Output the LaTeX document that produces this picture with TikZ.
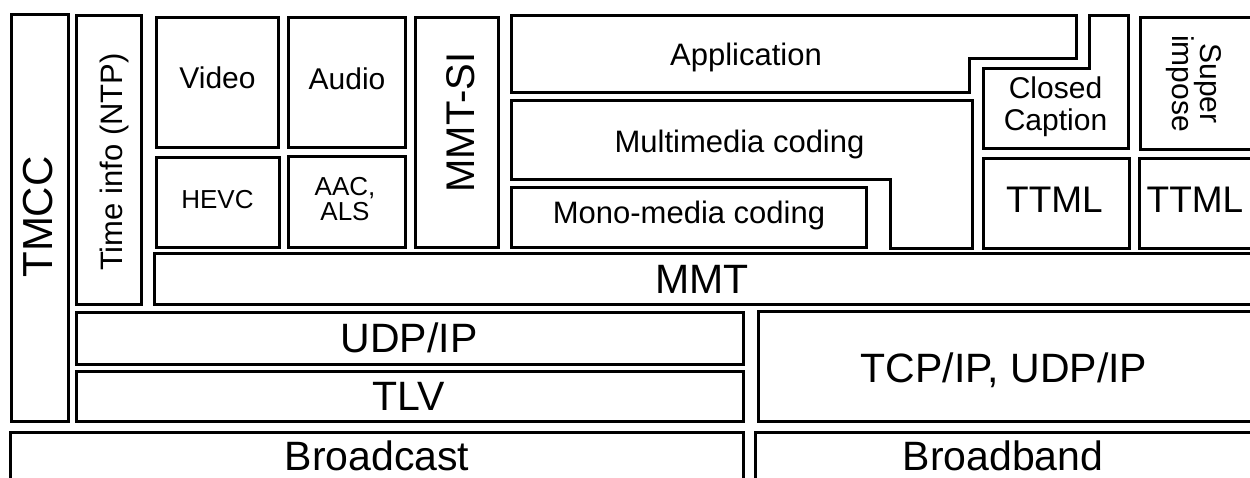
\documentclass[tikz,border=0pt]{standalone}
\usepackage{fontspec}
\setmainfont{Liberation Sans}
\tikzset{
  box/.style={draw=black, line width=3pt, line join=miter},
  lbl/.style={anchor=base, inner sep=0pt, outer sep=0pt, text=black},
  fs/.style={font=\fontsize{#1}{#1}\selectfont},
}
\begin{document}
\begin{tikzpicture}[x=1pt,y=-1pt]
\useasboundingbox (0,0) rectangle (1250,477);
\clip (0,0) rectangle (1250,477);
\fill[white] (0,0) rectangle (1250,477);
% left columns
\draw[box] (11,14.5) rectangle (68.5,421.5);
\draw[box] (76,15.3) rectangle (141.3,304.7);
% video / audio
\draw[box] (156,17) rectangle (278,147.7);
\draw[box] (288,17) rectangle (405.3,147.7);
\draw[box] (156.7,157) rectangle (279,247);
\draw[box] (288,156) rectangle (405.7,247);
% MMT-SI
\draw[box] (415.3,17.3) rectangle (498.7,247.3);
% Application
\draw[box] (511.3,15.3) -- (1076,15.3) -- (1076,58.7) -- (969.7,58.7) -- (969.7,92) -- (511.3,92) -- cycle;
% Multimedia coding
\draw[box] (511.7,100.7) -- (972,100.7) -- (972,248) -- (890.3,248) -- (890.3,179.3) -- (511.7,179.3) -- cycle;
% Mono-media coding
\draw[box] (511.7,187) rectangle (866,247.3);
% Closed caption
\draw[box] (983,68.7) -- (1089.7,68.7) -- (1089.7,15.3) -- (1128,15.3) -- (1128,148) -- (983,148) -- cycle;
% Super impose
\draw[box] (1140.5,17.3) rectangle (1254,149.3);
% TTML
\draw[box] (983,158.7) rectangle (1129,248);
\draw[box] (1139.7,158.7) rectangle (1254,248);
% MMT
\draw[box] (154.7,253.7) rectangle (1254,304.7);
% UDP/IP, TLV, TCP
\draw[box] (76.5,312.5) rectangle (743,364);
\draw[box] (76.5,371.5) rectangle (743,421.5);
\draw[box] (758.5,311.5) rectangle (1254,421.5);
% Broadcast / Broadband
\draw[box] (10.5,432) rectangle (743,490);
\draw[box] (755.5,432) rectangle (1254,490);

% labels
\node[lbl, fs=42, rotate=90] (tmcc) at (52,217) {TMCC};
\node[lbl, fs=31, rotate=90] (time) at (122,162) {Time info (NTP)};
\node[lbl, fs=30] (video) at (217.5,88.5) {Video};
\node[lbl, fs=30] (audio) at (347,89) {Audio};
\node[lbl, fs=26] (hevc) at (217.5,208) {HEVC};
\node[lbl, font=\fontsize{26}{25}\selectfont, align=center] (aac) at (345,220) {AAC,\\ALS};
\node[lbl, fs=40, rotate=90] (mmtsi) at (474,122.5) {MMT-SI};
\node[lbl, fs=31] (app) at (746,65) {Application};
\node[lbl, fs=31] (multi) at (739.5,152) {Multimedia coding};
\node[lbl, fs=31] (mono) at (689,223) {Mono-media coding};
\node[lbl, font=\fontsize{30}{32}\selectfont, align=center] (cc) at (1055.5,130) {Closed\\Caption};
\node[lbl, font=\fontsize{30}{28}\selectfont, align=center, rotate=-90] (super) at (1172,83.5) {Super\\impose};
\node[lbl, fs=37] (ttmla) at (1054.5,212) {TTML};
\node[lbl, fs=37] (ttmlb) at (1195,212) {TTML};
\node[lbl, fs=41] (mmt) at (702,293.3) {MMT};
\node[lbl, fs=41] (udp) at (409,352.7) {UDP/IP};
\node[lbl, fs=41] (tlv) at (409,410) {TLV};
\node[lbl, fs=41] (tcp) at (1004,382) {TCP/IP, UDP/IP};
\node[lbl, fs=41] (bcast) at (377,470) {Broadcast};
\node[lbl, fs=41] (bband) at (1003,470.5) {Broadband};
\end{tikzpicture}
\end{document}
